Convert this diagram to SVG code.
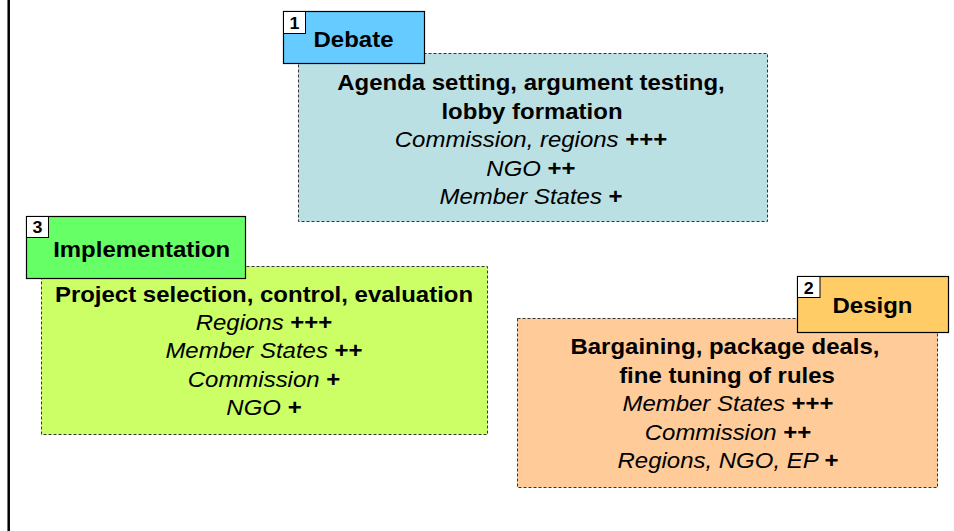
<svg xmlns="http://www.w3.org/2000/svg" width="954" height="531" viewBox="0 0 954 531">
<style>
text{font-family:"Liberation Sans",Arial,sans-serif;font-size:22px;fill:#000;text-anchor:middle}
.b{font-weight:bold}
.i{font-style:italic}
.num{font-size:17px;font-weight:bold}
.body{stroke:#333;stroke-width:1;stroke-dasharray:3 2}
.head{stroke:#000;stroke-width:1.2}
.nb{fill:#fff;stroke:#000;stroke-width:1}
</style>
<rect width="954" height="531" fill="#fff"/>
<line x1="8.7" y1="0" x2="8.7" y2="531" stroke="#000" stroke-width="2.5"/>

<g id="debate">
<rect class="body" x="298.5" y="53.5" width="469" height="168" fill="#BBE0E3"/>
<rect class="head" x="283.5" y="11.5" width="141" height="52" fill="#66CCFF"/>
<rect class="nb" x="283.5" y="11.5" width="22" height="22"/>
<text class="num" transform="translate(294.5,28.5) scale(1.05,1)">1</text>
<text class="b" transform="translate(353.5,47) scale(1.09,1)">Debate</text>
<text class="b" transform="translate(531,90) scale(1.09,1)">Agenda setting, argument testing,</text>
<text class="b" transform="translate(532,118.5) scale(1.09,1)">lobby formation</text>
<text transform="translate(531,147) scale(1.09,1)"><tspan class="i">Commission, regions </tspan><tspan class="b">+++</tspan></text>
<text transform="translate(531,175.5) scale(1.09,1)"><tspan class="i">NGO </tspan><tspan class="b">++</tspan></text>
<text transform="translate(531,204) scale(1.09,1)"><tspan class="i">Member States </tspan><tspan class="b">+</tspan></text>
</g>

<g id="implementation">
<rect class="body" x="41.5" y="266.5" width="446" height="168" fill="#CCFF66"/>
<rect class="head" x="26.5" y="216.5" width="219" height="62" fill="#66FF66"/>
<rect class="nb" x="26.5" y="216.5" width="22" height="21"/>
<text class="num" transform="translate(37.5,233) scale(1.05,1)">3</text>
<text class="b" transform="translate(141.7,256.7) scale(1.09,1)">Implementation</text>
<text class="b" transform="translate(264,301.7) scale(1.09,1)">Project selection, control, evaluation</text>
<text transform="translate(264,330) scale(1.09,1)"><tspan class="i">Regions </tspan><tspan class="b">+++</tspan></text>
<text transform="translate(264,358.3) scale(1.09,1)"><tspan class="i">Member States </tspan><tspan class="b">++</tspan></text>
<text transform="translate(264,386.7) scale(1.09,1)"><tspan class="i">Commission </tspan><tspan class="b">+</tspan></text>
<text transform="translate(264,415) scale(1.09,1)"><tspan class="i">NGO </tspan><tspan class="b">+</tspan></text>
</g>

<g id="design">
<rect class="body" x="517.5" y="318.5" width="420" height="169" fill="#FFCC99"/>
<rect class="head" x="797.5" y="276.5" width="151" height="56" fill="#FFCC66"/>
<rect class="nb" x="797.5" y="276.5" width="22.5" height="21"/>
<text class="num" transform="translate(808.7,293.5) scale(1.05,1)">2</text>
<text class="b" transform="translate(872.5,312.7) scale(1.09,1)">Design</text>
<text class="b" transform="translate(725,354) scale(1.09,1)">Bargaining, package deals,</text>
<text class="b" transform="translate(727,382.5) scale(1.09,1)">fine tuning of rules</text>
<text transform="translate(728,411) scale(1.09,1)"><tspan class="i">Member States </tspan><tspan class="b">+++</tspan></text>
<text transform="translate(728,439.5) scale(1.09,1)"><tspan class="i">Commission </tspan><tspan class="b">++</tspan></text>
<text transform="translate(728,468) scale(1.09,1)"><tspan class="i">Regions, NGO, EP </tspan><tspan class="b">+</tspan></text>
</g>
</svg>
